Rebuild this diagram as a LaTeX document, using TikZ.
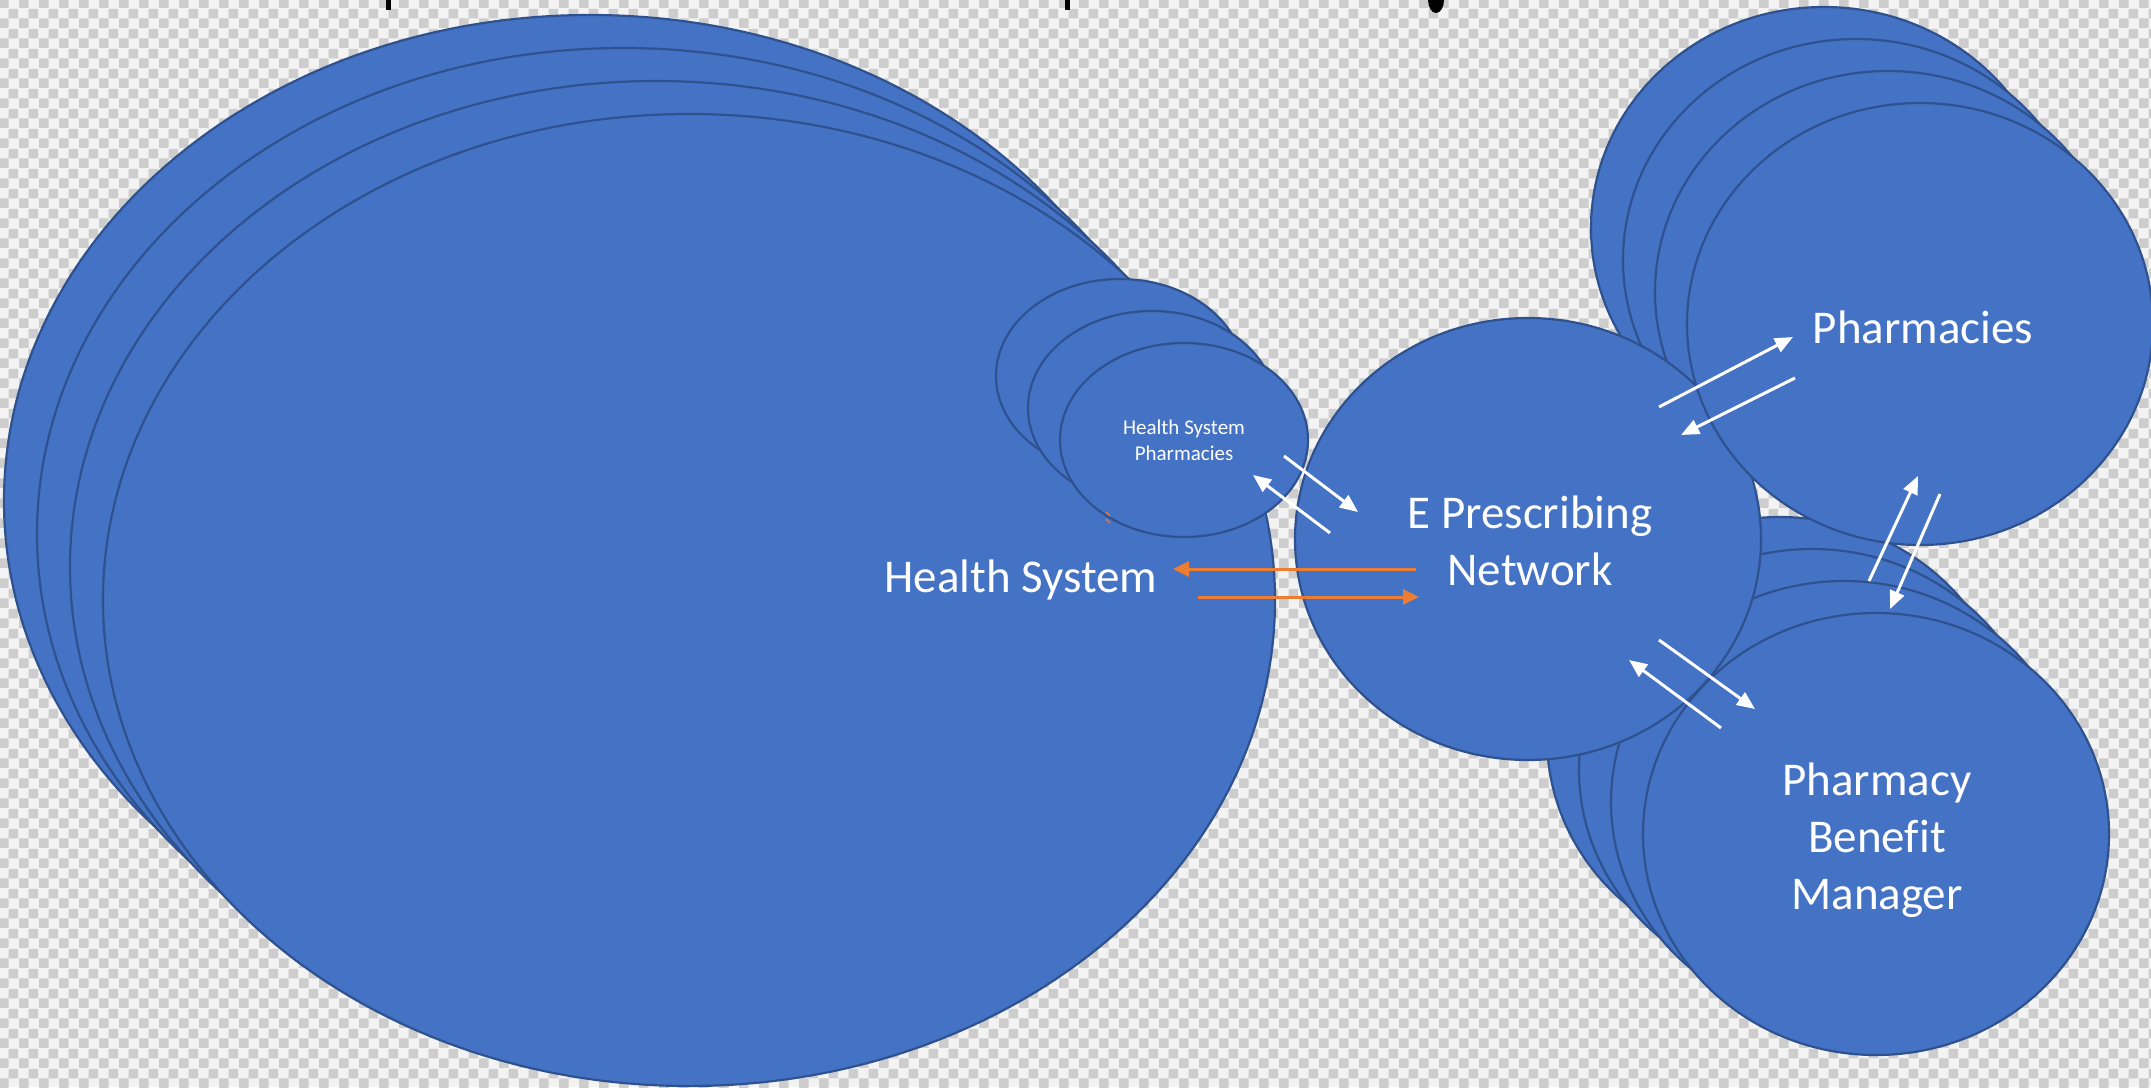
\documentclass[tikz,border=0pt]{standalone}
\usepackage{fontspec}
\setmainfont{Carlito}[Ligatures=NoCommon]
\usetikzlibrary{shapes.geometric,arrows.meta,patterns.meta}
\definecolor{bfill}{HTML}{4472C4}
\definecolor{bline}{HTML}{2F528F}
\definecolor{orng}{HTML}{ED7D31}
\definecolor{chkA}{HTML}{F3F3F3}
\definecolor{chkB}{HTML}{CDCDCD}
\tikzdeclarepattern{
  name=chk,
  type=uncolored,
  bottom left={(0pt,0pt)},
  top right={(10pt,10pt)},
  tile size={(10pt,10pt)},
  code={
    \fill (0pt,0pt) rectangle (5pt,5pt);
    \fill (5pt,5pt) rectangle (10pt,10pt);
  }
}
\begin{document}
\begin{tikzpicture}[x=0.5pt,y=-0.5pt,
  bub/.style={ellipse, draw=bline, fill=bfill, line width=1.1pt, inner sep=0pt,
    minimum width=233pt, minimum height=221pt, text=white, align=center,
    font=\fontsize{23.5}{28.5}\selectfont},
  bigbub/.style={bub, minimum width=586pt, minimum height=486pt},
  smallbub/.style={bub, minimum width=124pt, minimum height=97pt,
    font=\fontsize{10.5}{13}\selectfont},
  lbl/.style={text=white, font=\fontsize{23.5}{28.5}\selectfont, inner sep=0pt, align=center},
  warr/.style={draw=white, line width=1.5pt, -{Triangle[length=9pt,width=7.5pt]}},
  oarr/.style={draw=orng, line width=1.5pt, -{Triangle[length=8pt,width=7.5pt]}}
]
\useasboundingbox (0,0) rectangle (2151,1087);
\clip (0,0) rectangle (2151,1087);
% background checkerboard
\fill[chkA] (0,0) rectangle (2151,1087);
\fill[pattern=chk, pattern color=chkB] (0,0) rectangle (2151,1087);
% cut-off title fragments
\fill[black] (386,0) rectangle (391,10);
\fill[black] (1065,0) rectangle (1070,10);
\fill[black] (1436,0) ellipse [x radius=8, y radius=13];
% Health System stack
\node[bigbub] (hs1) at (590,501) {};
\node[bigbub] (hs2) at (623,534) {};
\node[bigbub] (hs3) at (656,567) {};
\node[bigbub] (hs4) at (689,600) {};
\node[lbl] (hslbl) at (1021,580) {Health System};
% Health System Pharmacies stack
\node[smallbub] (hp1) at (1120,376) {};
\node[smallbub] (hp2) at (1152,408) {};
\node[smallbub] (hp3) at (1184,440) {Health System\\Pharmacies};
\draw[orng, line width=0.6pt] (1106,512) -- (1110,516) (1106,519) -- (1110,523);
% PBM back stack
\node[bub] (pb1) at (1780,738) {};
\node[bub] (pb2) at (1812,770) {};
\node[bub] (pb3) at (1844,802) {};
% Pharmacies back stack
\node[bub] (ph1) at (1824,228) {};
\node[bub] (ph2) at (1856,260) {};
\node[bub] (ph3) at (1888,292) {};
% E Prescribing Network
\node[bub] (ep) at (1528,539) {};
\node[lbl] (eplbl) at (1530,541) {E Prescribing\\Network};
% fronts
\node[bub] (ph4) at (1920,324) {};
\node[lbl] (phlbl) at (1923,327) {Pharmacies};
\node[bub] (pb4) at (1876,834) {};
\node[lbl] (pblbl) at (1877,840) {Pharmacy\\Benefit\\Manager};
% arrow end points
\coordinate (a1) at (1284,456); \coordinate (a2) at (1358,512);
\coordinate (b1) at (1330,533); \coordinate (b2) at (1253,475);
\coordinate (o1) at (1416,569); \coordinate (o2) at (1173,569);
\coordinate (o3) at (1198,597); \coordinate (o4) at (1419,597);
\coordinate (c1) at (1659,407); \coordinate (c2) at (1793,337);
\coordinate (d1) at (1795,378); \coordinate (d2) at (1681,435);
\coordinate (e1) at (1869,581); \coordinate (e2) at (1918,476);
\coordinate (f1) at (1940,494); \coordinate (f2) at (1890,609);
\coordinate (g1) at (1659,640); \coordinate (g2) at (1755,709);
\coordinate (h1) at (1721,728); \coordinate (h2) at (1629,660);
% arrows
\draw[warr] (a1) -- (a2);
\draw[warr] (b1) -- (b2);
\draw[oarr] (o1) -- (o2);
\draw[oarr] (o3) -- (o4);
\draw[warr] (c1) -- (c2);
\draw[warr] (d1) -- (d2);
\draw[warr] (e1) -- (e2);
\draw[warr] (f1) -- (f2);
\draw[warr] (g1) -- (g2);
\draw[warr] (h1) -- (h2);
\end{tikzpicture}
\end{document}
